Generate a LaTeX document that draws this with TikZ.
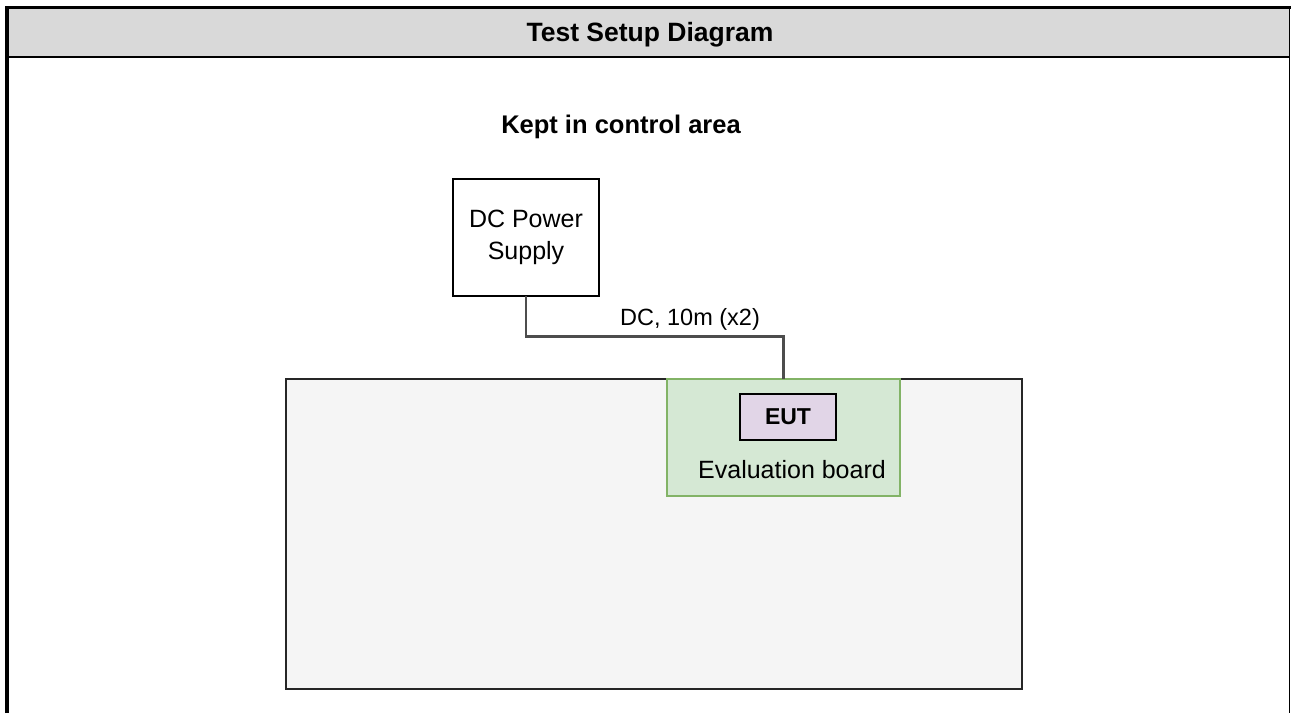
\documentclass[tikz,border=0pt]{standalone}
\usepackage{fontspec}
\setmainfont{Liberation Sans}
\definecolor{hdrgray}{HTML}{D9D9D9}
\definecolor{areagray}{HTML}{F5F5F5}
\definecolor{boardfill}{HTML}{D5E8D4}
\definecolor{boardline}{HTML}{82B366}
\definecolor{eutfill}{HTML}{E1D5E7}
\definecolor{wiregray}{HTML}{4D4D4D}
\tikzset{
  box/.style={rectangle, draw=black, line width=1.9pt, inner sep=0pt, outer sep=0pt, align=center},
  bodytext/.style={font=\fontsize{25}{29}\selectfont, text=black, inner sep=0pt},
  boldtext/.style={font=\fontsize{26.5}{30}\selectfont\bfseries, text=black, inner sep=0pt},
  wire/.style={draw=wiregray, line width=2.5pt},
}
\begin{document}
\begin{tikzpicture}[x=1pt,y=-1pt]
\useasboundingbox (0,0) rectangle (1291,713);
\fill[white] (0,0) rectangle (1291,713);
% header
\fill[hdrgray] (8,9) rectangle (1289,56);
\draw[line width=4pt] (7,713) -- (7,7.5);
\draw[line width=3pt] (5,7.5) -- (1291,7.5);
\draw[line width=1.5pt] (1289.6,9) -- (1289.6,713);
\draw[line width=2.8pt] (8,57) -- (1289,57);
\node[boldtext] (title) at (650,35) {Test Setup Diagram};
% content
\node[boldtext, font=\fontsize{25.5}{30}\selectfont\bfseries] (kept) at (621,127) {Kept in control area};
\node[box, fill=white, minimum width=146pt, minimum height=117pt, font=\fontsize{25}{32.5}\selectfont] (dcps) at (526,237.5) {DC Power\\Supply};
\node[box, fill=areagray, draw=black!85, minimum width=736pt, minimum height=310pt] (area) at (654,534) {};
\node[box, fill=boardfill, draw=boardline, line width=1.9pt, minimum width=233pt, minimum height=117pt] (board) at (783.5,437.5) {};
\node[box, fill=eutfill, minimum width=96pt, minimum height=46pt, font=\fontsize{23}{27}\selectfont\bfseries] (eut) at (788,417) {EUT};
\node[bodytext] (evlbl) at (792,469.5) {Evaluation board};
\draw[wire] (dcps.south) -- ++(0,40.5) -| (board.north);
\node[bodytext, font=\fontsize{23.5}{27}\selectfont] (dclbl) at (690,319) {DC, 10m (x2)};
\end{tikzpicture}
\end{document}
